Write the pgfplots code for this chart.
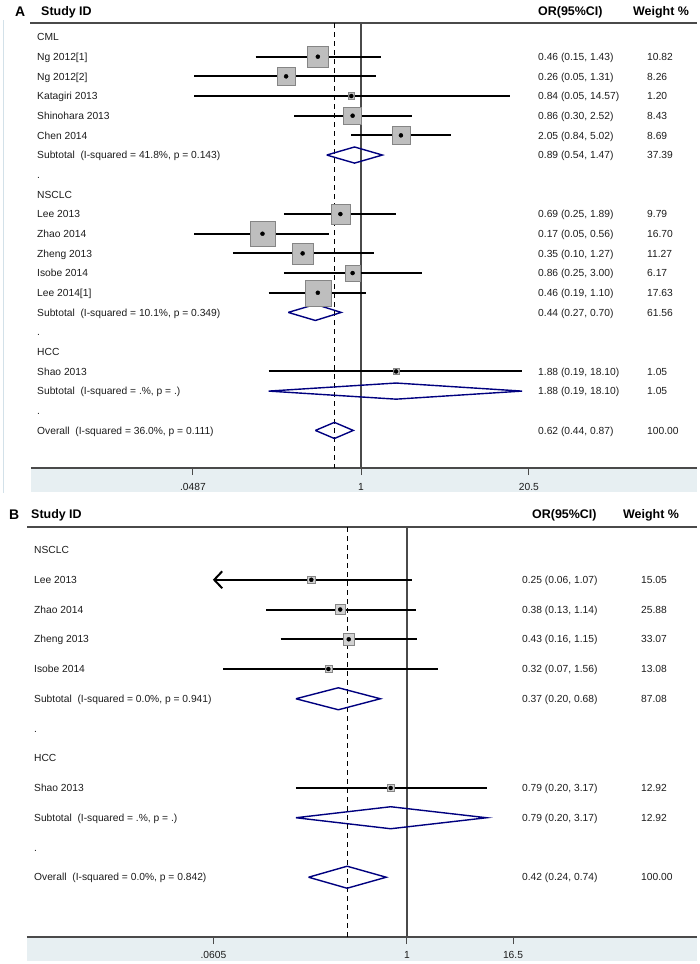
\documentclass[border=0pt]{standalone}
\usepackage{fontspec}
\setmainfont{Liberation Sans}
\usepackage{pgfplots}
\usepackage{pgfplotstable}
\pgfplotsset{compat=1.18}
\usetikzlibrary{arrows.meta}

\definecolor{band}{HTML}{E7EFF2}
\definecolor{navy}{HTML}{00007F}
\definecolor{boxg}{HTML}{BEBEBE}
\definecolor{boxb}{HTML}{858585}
\definecolor{txt}{HTML}{1C1C1C}
\definecolor{edge}{HTML}{D3E1E9}
\definecolor{rule}{HTML}{4A4A4A}

% study estimates: row, odds ratio, weight
\pgfplotstableread{
row or w
2 0.46 10.82
3 0.26 8.26
4 0.84 1.20
5 0.86 8.43
6 2.05 8.69
10 0.69 9.79
11 0.17 16.70
12 0.35 11.27
13 0.86 6.17
14 0.46 17.63
18 1.88 1.05
}\studiesA

\pgfplotstableread{
row or w
2 0.25 15.05
3 0.38 25.88
4 0.43 33.07
5 0.32 13.08
9 0.79 12.92
}\studiesB

\newcommand{\rowfont}{\fontsize{10.3}{12}\selectfont}
\newcommand{\hdrfont}{\fontsize{12.5}{14}\selectfont\bfseries}
\tikzset{rowtxt/.style={anchor=west, inner sep=0pt, text height=7.4bp, text depth=0pt, font=\rowfont, text=txt}}

% confidence interval line: row, lower, upper
\newcommand{\ci}[3]{\addplot[black, line width=2bp, forget plot] coordinates {(#2,#1) (#3,#1)};}

\begin{document}
\begin{tikzpicture}
\useasboundingbox (0,0) rectangle (700bp,-964bp);

%================ PANEL A =================
\fill[band] (31bp,-468bp) rectangle (697bp,-492bp);
\draw[edge, line width=1bp] (3bp,-20bp) -- (3bp,-493bp);
\draw[rule, line width=1.3bp] (30bp,-23bp) -- (697bp,-23bp);
\node[anchor=base west, inner sep=0pt, font=\fontsize{14}{16}\selectfont\bfseries] at (15bp,-16bp) {A};
\node[anchor=base west, inner sep=0pt, font=\hdrfont] at (41bp,-15.5bp) {Study ID};
\node[anchor=base west, inner sep=0pt, font=\hdrfont] at (538bp,-15.5bp) {OR(95\%CI)};
\node[anchor=base west, inner sep=0pt, font=\hdrfont] at (633bp,-15.5bp) {Weight \%};

\begin{axis}[
  at={(31bp,-23bp)}, anchor=north west, scale only axis,
  width=666bp, height=445bp,
  xmode=log, xmin=0.002644, xmax=421.2,
  y dir=reverse, ymin=0.288, ymax=22.91,
  axis x line*=bottom, axis y line=none,
  clip=false,
  xtick={0.0487,1,20.5}, xticklabels={,,}, minor xtick={},
  xtick align=outside, major tick length=7bp,
  x axis line style={draw=rule, line width=1.3bp},
  x tick style={draw=rule, line width=1bp},
]
\addplot[rule, line width=1.3bp] coordinates {(1,0.288) (1,22.91)};
\addplot[black, line width=1bp, dash pattern=on 5bp off 4bp] coordinates {(0.62,0.288) (0.62,22.91)};

\ci{2}{0.15}{1.43}
\ci{3}{0.05}{1.31}
\ci{4}{0.05}{14.57}
\ci{5}{0.30}{2.52}
\ci{6}{0.84}{5.02}
\ci{10}{0.25}{1.89}
\ci{11}{0.05}{0.56}
\ci{12}{0.10}{1.27}
\ci{13}{0.25}{3.00}
\ci{14}{0.19}{1.10}
\ci{18}{0.19}{18.10}

\addplot[scatter, only marks, mark=square*,
  scatter/use mapped color={draw=boxb, fill=boxg},
  visualization depends on={3.1*sqrt(\thisrow{w}) \as \ms},
  scatter/@pre marker code/.append style={/tikz/mark size=\ms}]
  table[x=or, y=row] {\studiesA};
\addplot[only marks, mark=*, mark size=2bp, black] table[x=or, y=row] {\studiesA};

% pooled diamonds
\addplot[navy, line width=1.4bp, line join=miter] coordinates {(0.54,7) (0.89,6.59) (1.47,7) (0.89,7.41) (0.54,7)};
\addplot[navy, line width=1.4bp, line join=miter] coordinates {(0.27,15) (0.44,14.59) (0.70,15) (0.44,15.41) (0.27,15)};
\addplot[navy, line width=1.4bp, line join=miter] coordinates {(0.19,19) (1.88,18.59) (18.10,19) (1.88,19.41) (0.19,19)};
\addplot[navy, line width=1.4bp, line join=miter] coordinates {(0.44,21) (0.62,20.59) (0.87,21) (0.62,21.41) (0.44,21)};

% row texts
\def\lx{0.002946}\def\vx{24.13}\def\wx{171.4}
\node[rowtxt] at (axis cs:\lx,1) {CML};
\node[rowtxt] at (axis cs:\lx,2) {Ng 2012[1]};
\node[rowtxt] at (axis cs:\lx,3) {Ng 2012[2]};
\node[rowtxt] at (axis cs:\lx,4) {Katagiri 2013};
\node[rowtxt] at (axis cs:\lx,5) {Shinohara 2013};
\node[rowtxt] at (axis cs:\lx,6) {Chen 2014};
\node[rowtxt] at (axis cs:\lx,7) {Subtotal\ \ (I-squared = 41.8\%, p = 0.143)};
\node[rowtxt] at (axis cs:\lx,8) {.};
\node[rowtxt] at (axis cs:\lx,9) {NSCLC};
\node[rowtxt] at (axis cs:\lx,10) {Lee 2013};
\node[rowtxt] at (axis cs:\lx,11) {Zhao 2014};
\node[rowtxt] at (axis cs:\lx,12) {Zheng 2013};
\node[rowtxt] at (axis cs:\lx,13) {Isobe 2014};
\node[rowtxt] at (axis cs:\lx,14) {Lee 2014[1]};
\node[rowtxt] at (axis cs:\lx,15) {Subtotal\ \ (I-squared = 10.1\%, p = 0.349)};
\node[rowtxt] at (axis cs:\lx,16) {.};
\node[rowtxt] at (axis cs:\lx,17) {HCC};
\node[rowtxt] at (axis cs:\lx,18) {Shao 2013};
\node[rowtxt] at (axis cs:\lx,19) {Subtotal\ \ (I-squared = .\%, p = .)};
\node[rowtxt] at (axis cs:\lx,20) {.};
\node[rowtxt] at (axis cs:\lx,21) {Overall\ \ (I-squared = 36.0\%, p = 0.111)};

\node[rowtxt] at (axis cs:\vx,2) {0.46 (0.15, 1.43)};
\node[rowtxt] at (axis cs:\vx,3) {0.26 (0.05, 1.31)};
\node[rowtxt] at (axis cs:\vx,4) {0.84 (0.05, 14.57)};
\node[rowtxt] at (axis cs:\vx,5) {0.86 (0.30, 2.52)};
\node[rowtxt] at (axis cs:\vx,6) {2.05 (0.84, 5.02)};
\node[rowtxt] at (axis cs:\vx,7) {0.89 (0.54, 1.47)};
\node[rowtxt] at (axis cs:\vx,10) {0.69 (0.25, 1.89)};
\node[rowtxt] at (axis cs:\vx,11) {0.17 (0.05, 0.56)};
\node[rowtxt] at (axis cs:\vx,12) {0.35 (0.10, 1.27)};
\node[rowtxt] at (axis cs:\vx,13) {0.86 (0.25, 3.00)};
\node[rowtxt] at (axis cs:\vx,14) {0.46 (0.19, 1.10)};
\node[rowtxt] at (axis cs:\vx,15) {0.44 (0.27, 0.70)};
\node[rowtxt] at (axis cs:\vx,18) {1.88 (0.19, 18.10)};
\node[rowtxt] at (axis cs:\vx,19) {1.88 (0.19, 18.10)};
\node[rowtxt] at (axis cs:\vx,21) {0.62 (0.44, 0.87)};

\node[rowtxt] at (axis cs:\wx,2) {10.82};
\node[rowtxt] at (axis cs:\wx,3) {8.26};
\node[rowtxt] at (axis cs:\wx,4) {1.20};
\node[rowtxt] at (axis cs:\wx,5) {8.43};
\node[rowtxt] at (axis cs:\wx,6) {8.69};
\node[rowtxt] at (axis cs:\wx,7) {37.39};
\node[rowtxt] at (axis cs:\wx,10) {9.79};
\node[rowtxt] at (axis cs:\wx,11) {16.70};
\node[rowtxt] at (axis cs:\wx,12) {11.27};
\node[rowtxt] at (axis cs:\wx,13) {6.17};
\node[rowtxt] at (axis cs:\wx,14) {17.63};
\node[rowtxt] at (axis cs:\wx,15) {61.56};
\node[rowtxt] at (axis cs:\wx,18) {1.05};
\node[rowtxt] at (axis cs:\wx,19) {1.05};
\node[rowtxt] at (axis cs:\wx,21) {100.00};

% tick labels
\node[font=\rowfont, text=txt, inner sep=0pt, yshift=-19bp] at (axis cs:0.0487,22.91) {.0487};
\node[font=\rowfont, text=txt, inner sep=0pt, yshift=-19bp] at (axis cs:1,22.91) {1};
\node[font=\rowfont, text=txt, inner sep=0pt, yshift=-19bp] at (axis cs:20.5,22.91) {20.5};
\end{axis}

%================ PANEL B =================
\fill[band] (27bp,-937bp) rectangle (697bp,-961bp);
\draw[rule, line width=1.3bp] (27bp,-527bp) -- (697bp,-527bp);
\node[anchor=base west, inner sep=0pt, font=\fontsize{14}{16}\selectfont\bfseries] at (9bp,-519bp) {B};
\node[anchor=base west, inner sep=0pt, font=\hdrfont] at (31bp,-518bp) {Study ID};
\node[anchor=base west, inner sep=0pt, font=\hdrfont] at (532bp,-518bp) {OR(95\%CI)};
\node[anchor=base west, inner sep=0pt, font=\hdrfont] at (623bp,-518bp) {Weight \%};

\begin{axis}[
  at={(27bp,-527bp)}, anchor=north west, scale only axis,
  width=670bp, height=410bp,
  xmode=log, xmin=0.004058, xmax=66.9,
  y dir=reverse, ymin=0.226, ymax=14.01,
  axis x line*=bottom, axis y line=none,
  clip=false,
  xtick={0.0605,1,4.65}, xticklabels={,,}, minor xtick={},
  xtick align=outside, major tick length=7bp,
  x axis line style={draw=rule, line width=1.3bp},
  x tick style={draw=rule, line width=1bp},
]
\addplot[rule, line width=1.3bp] coordinates {(1,0.226) (1,14.01)};
\addplot[black, line width=1bp, dash pattern=on 5bp off 4bp] coordinates {(0.42,0.226) (0.42,14.01)};

\addplot[black, line width=2bp, arrows={Straight Barb[length=8bp,width=17bp]-}] coordinates {(0.06,2) (1.07,2)};
\ci{3}{0.13}{1.14}
\ci{4}{0.16}{1.15}
\ci{5}{0.07}{1.56}
\ci{9}{0.20}{3.17}

\addplot[scatter, only marks, mark=square*,
  scatter/use mapped color={draw=boxb, fill=boxg!70},
  visualization depends on={1.0*sqrt(\thisrow{w}) \as \ms},
  scatter/@pre marker code/.append style={/tikz/mark size=\ms}]
  table[x=or, y=row] {\studiesB};
\addplot[only marks, mark=*, mark size=2bp, black] table[x=or, y=row] {\studiesB};

\addplot[navy, line width=1.4bp, line join=miter] coordinates {(0.20,6) (0.37,5.63) (0.68,6) (0.37,6.37) (0.20,6)};
\addplot[navy, line width=1.4bp, line join=miter] coordinates {(0.20,10) (0.79,9.63) (3.17,10) (0.79,10.37) (0.20,10)};
\addplot[navy, line width=1.4bp, line join=miter] coordinates {(0.24,12) (0.42,11.63) (0.74,12) (0.42,12.37) (0.24,12)};

\def\lx{0.00449}\def\vx{5.294}\def\wx{29.7}
\node[rowtxt] at (axis cs:\lx,1) {NSCLC};
\node[rowtxt] at (axis cs:\lx,2) {Lee 2013};
\node[rowtxt] at (axis cs:\lx,3) {Zhao 2014};
\node[rowtxt] at (axis cs:\lx,4) {Zheng 2013};
\node[rowtxt] at (axis cs:\lx,5) {Isobe 2014};
\node[rowtxt] at (axis cs:\lx,6) {Subtotal\ \ (I-squared = 0.0\%, p = 0.941)};
\node[rowtxt] at (axis cs:\lx,7) {.};
\node[rowtxt] at (axis cs:\lx,8) {HCC};
\node[rowtxt] at (axis cs:\lx,9) {Shao 2013};
\node[rowtxt] at (axis cs:\lx,10) {Subtotal\ \ (I-squared = .\%, p = .)};
\node[rowtxt] at (axis cs:\lx,11) {.};
\node[rowtxt] at (axis cs:\lx,12) {Overall\ \ (I-squared = 0.0\%, p = 0.842)};

\node[rowtxt] at (axis cs:\vx,2) {0.25 (0.06, 1.07)};
\node[rowtxt] at (axis cs:\vx,3) {0.38 (0.13, 1.14)};
\node[rowtxt] at (axis cs:\vx,4) {0.43 (0.16, 1.15)};
\node[rowtxt] at (axis cs:\vx,5) {0.32 (0.07, 1.56)};
\node[rowtxt] at (axis cs:\vx,6) {0.37 (0.20, 0.68)};
\node[rowtxt] at (axis cs:\vx,9) {0.79 (0.20, 3.17)};
\node[rowtxt] at (axis cs:\vx,10) {0.79 (0.20, 3.17)};
\node[rowtxt] at (axis cs:\vx,12) {0.42 (0.24, 0.74)};

\node[rowtxt] at (axis cs:\wx,2) {15.05};
\node[rowtxt] at (axis cs:\wx,3) {25.88};
\node[rowtxt] at (axis cs:\wx,4) {33.07};
\node[rowtxt] at (axis cs:\wx,5) {13.08};
\node[rowtxt] at (axis cs:\wx,6) {87.08};
\node[rowtxt] at (axis cs:\wx,9) {12.92};
\node[rowtxt] at (axis cs:\wx,10) {12.92};
\node[rowtxt] at (axis cs:\wx,12) {100.00};

\node[font=\rowfont, text=txt, inner sep=0pt, yshift=-18bp] at (axis cs:0.0605,14.01) {.0605};
\node[font=\rowfont, text=txt, inner sep=0pt, yshift=-18bp] at (axis cs:1,14.01) {1};
\node[font=\rowfont, text=txt, inner sep=0pt, yshift=-18bp] at (axis cs:4.65,14.01) {16.5};
\end{axis}
\end{tikzpicture}
\end{document}
